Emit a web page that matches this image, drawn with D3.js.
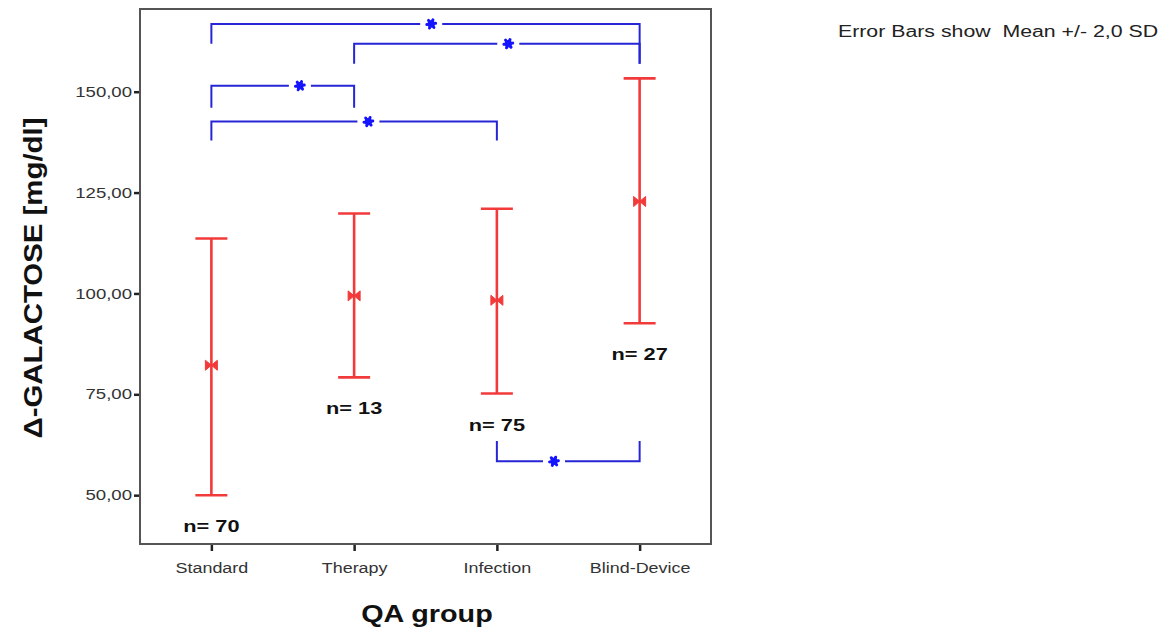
<!DOCTYPE html>
<html><head><meta charset="utf-8">
<script src="https://cdn.jsdelivr.net/npm/d3@7"></script>
<style>body{margin:0;background:#fff}svg{display:block}text{font-family:Arial,"Liberation Sans",sans-serif}</style>
</head><body>
<script>
const categories = ["Standard","Therapy","Infection","Blind-Device"];
const means = [82.2, 99.4, 98.3, 122.8];
const upper = [113.6, 119.8, 121.0, 153.3];
const lower = [50.0, 79.2, 75.2, 92.6];
const nLabels = ["n= 70","n= 13","n= 75","n= 27"];
const yTicks = [50,75,100,125,150];
// brackets: [from index, to index, bar level, left leg end, right leg end, star position (category index units)]
const bracketFrom = [0,1,0,0,2];
const bracketTo   = [3,3,1,2,3];
const bracketLevel = [166.8,161.9,151.5,142.6,58.4];
const legLeftEnd  = [161.9,156.9,146.0,137.9,63.4];
const legRightEnd = [156.9,156.9,146.0,137.9,63.4];
const starPos = [1.54,2.08,0.62,1.10,2.40];

const W=1173,H=632;
const svg=d3.select("body").append("svg").attr("width",W).attr("height",H);
const L=140,R=711,T=9,B=544;
const x=d3.scalePoint().domain(categories).range([L,R]).padding(0.5);
const xi=d3.scaleLinear().domain([0,3]).range([x(categories[0]),x(categories[3])]);
const y=d3.scaleLinear().domain([37.9,170.5]).range([B,T]);

const red="#f23a3a", blue="#2626d6", starBlue="#1414ff";

function stretch(sel,f){sel.each(function(){const l=this.getComputedTextLength();d3.select(this).attr("textLength",l*f).attr("lengthAdjust","spacingAndGlyphs");});}

// axes
const ya=svg.append("g").attr("transform",`translate(${L},0)`)
  .call(d3.axisLeft(y).tickValues(yTicks).tickSize(6).tickFormat(d=>d3.format(".2f")(d).replace(".",",")));
const xa=svg.append("g").attr("transform",`translate(0,${B})`)
  .call(d3.axisBottom(x).tickSize(7));
[ya,xa].forEach(a=>{a.select(".domain").remove();
  a.selectAll(".tick line").attr("stroke","#222").attr("stroke-width",2.5);
  a.selectAll(".tick text").attr("fill","#333").style("font-family","Arial, 'Liberation Sans', sans-serif");});
ya.selectAll(".tick text").attr("x",-8).style("font-size","14.5px");
xa.selectAll(".tick text").attr("y",19).style("font-size","14px");
stretch(ya.selectAll(".tick text"),1.28);
stretch(xa.selectAll(".tick text"),1.28);

// frame
svg.append("rect").attr("x",L).attr("y",T).attr("width",R-L).attr("height",B-T)
  .attr("fill","none").attr("stroke","#555").attr("stroke-width",2);

// error bars
const g=svg.append("g");
categories.forEach((c,i)=>{
  const cx=x(c);
  g.append("line").attr("x1",cx).attr("x2",cx).attr("y1",y(upper[i])).attr("y2",y(lower[i])).attr("stroke",red).attr("stroke-width",2.6);
  [upper[i],lower[i]].forEach(v=>g.append("line").attr("x1",cx-16).attr("x2",cx+16).attr("y1",y(v)).attr("y2",y(v)).attr("stroke",red).attr("stroke-width",2.6));
  const my=y(means[i]);
  g.append("path").attr("d",`M${cx-6},${my-5}L${cx},${my}L${cx-6},${my+5}Z M${cx+6},${my-5}L${cx},${my}L${cx+6},${my+5}Z`)
    .attr("fill",red).attr("stroke",red).attr("stroke-width",1);
  const t=g.append("text").attr("x",cx).attr("y",y(lower[i])+37).attr("text-anchor","middle")
    .style("font-size","17px").style("font-weight","bold").attr("fill","#111").text(nLabels[i]);
  stretch(t,1.28);
});

// brackets
const ast=d3.symbol().type(d3.symbolAsterisk).size(55);
bracketFrom.forEach((f,k)=>{
  const x1=xi(f), x2=xi(bracketTo[k]), yl=y(bracketLevel[k]), sx=xi(starPos[k]);
  const bg=svg.append("g");
  bg.append("path").attr("d",`M${x1},${y(legLeftEnd[k])}V${yl}H${sx-11}M${sx+11},${yl}H${x2}V${y(legRightEnd[k])}`)
    .attr("fill","none").attr("stroke",blue).attr("stroke-width",2);
  bg.append("path").attr("d",ast).attr("transform",`translate(${sx},${yl}) rotate(22.5)`)
    .attr("fill","none").attr("stroke",starBlue).attr("stroke-width",3).attr("stroke-linecap","round");
  bg.append("circle").attr("cx",sx).attr("cy",yl).attr("r",3.6).attr("fill",starBlue);
});

// titles
const yt=svg.append("text").attr("transform",`translate(42,278) rotate(-90)`).attr("text-anchor","middle")
  .style("font-size","26px").style("font-weight","bold").attr("fill","#111").text("Δ-GALACTOSE [mg/dl]");
stretch(yt,1.13);
const xt=svg.append("text").attr("x",427).attr("y",622).attr("text-anchor","middle")
  .style("font-size","23px").style("font-weight","bold").attr("fill","#111").text("QA group");
stretch(xt,1.25);
const lg=svg.append("text").attr("x",838).attr("y",37).attr("xml:space","preserve").style("white-space","pre")
  .style("font-size","16px").attr("fill","#222").text("Error Bars show  Mean +/- 2,0 SD");
lg.attr("textLength",320).attr("lengthAdjust","spacingAndGlyphs");
</script>
</body></html>
